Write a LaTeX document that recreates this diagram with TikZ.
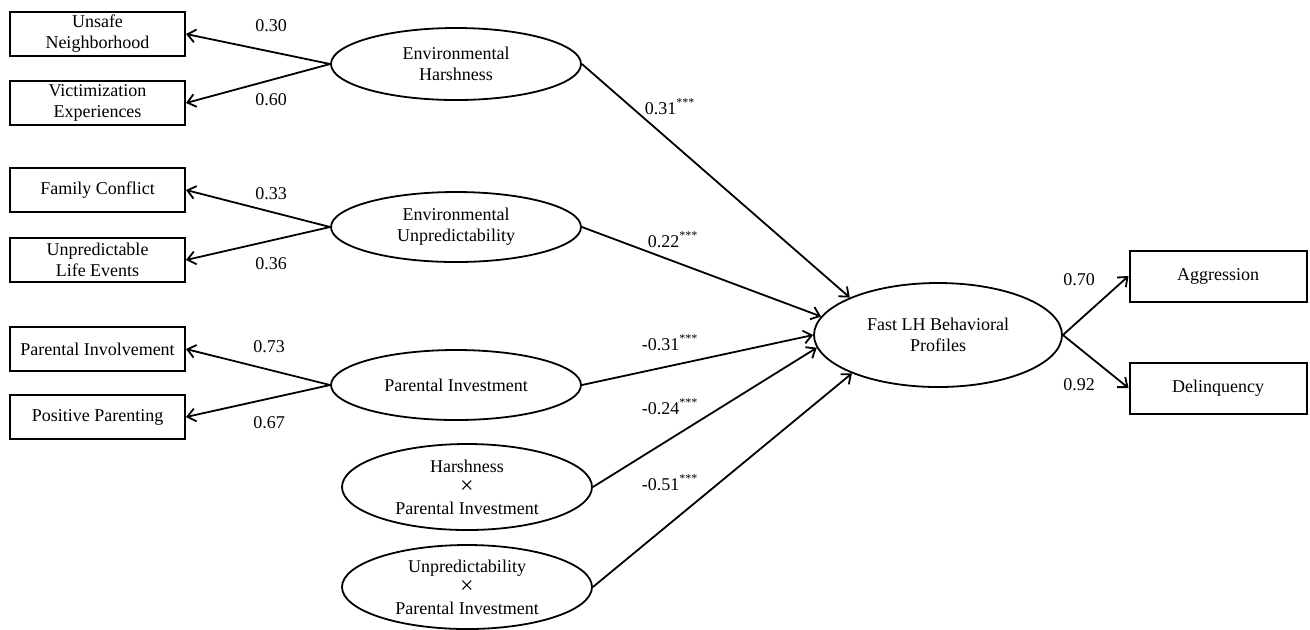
\documentclass[tikz,border=0pt]{standalone}
\usepackage{fontspec}
\setmainfont{Liberation Serif}
\usetikzlibrary{shapes.geometric,arrows.meta,positioning}
\tikzset{
    indicator/.style={
           rectangle,
           draw=black, line width=1pt,
           minimum width=87.5pt,
           minimum height=22pt,
           inner sep=1pt,
           align=center,
           },
    latent/.style={
           ellipse,
           draw=black, line width=0.9pt,
           minimum width=125pt,
           minimum height=35pt,
           inner sep=0pt,
           align=center,
           },
    coef/.style={inner sep=0pt},
}
\newcommand{\crossby}{{\fontsize{12}{10.5}\selectfont ×}}

\begin{document}
\begin{tikzpicture}[->,>={Straight Barb[length=4pt,width=6.5pt]},
  x=0.5pt,y=-0.5pt,line width=0.9pt,font=\fontsize{9}{10.5}\selectfont]
  \useasboundingbox (0,0) rectangle (1310,629);

   % latent factors
   \node[latent,minimum height=36pt] (HARSH) at (456,64) {Environmental\\Harshness};
   \node[latent] (UNPRED) at (456,227) {Environmental\\Unpredictability};
   \node[latent] (INVEST) at (456,385) {Parental Investment};
   \node[latent,minimum height=43pt] (HXI) at (467,487)
   {Harshness\\\crossby\\Parental Investment};
   \node[latent,minimum height=42pt] (UXI) at (467,587)
   {Unpredictability\\\crossby\\Parental Investment};
   \node[latent,minimum width=124pt,minimum height=52pt] (FASTLH) at (938,335)
   {Fast LH Behavioral\\Profiles};

   % observed indicators, left column stacked below each other
   \node[indicator] (UNSAFE) at (97.5,34) {Unsafe\\Neighborhood};
   \node[indicator,below of=UNSAFE,node distance=34.5pt] (VICTIM)
   {Victimization\\Experiences};
   \node[indicator,below of=VICTIM,node distance=43.5pt] (CONFLICT)
   {Family Conflict};
   \node[indicator,below of=CONFLICT,node distance=35pt] (LIFEEV)
   {Unpredictable\\Life Events};
   \node[indicator,below of=LIFEEV,node distance=44.5pt] (INVOLVE)
   {Parental Involvement};
   \node[indicator,below of=INVOLVE,node distance=34pt] (POSPAR)
   {Positive Parenting};

   % outcomes on the right
   \node[indicator,minimum width=88.5pt,minimum height=25.5pt] (AGGR) at (1218,276)
   {Aggression};
   \node[indicator,minimum width=88.5pt,minimum height=25.5pt,
    below of=AGGR,node distance=56pt] (DELINQ) {Delinquency};

   % loadings
   \path
   (HARSH.west) edge (UNSAFE.east)
   (HARSH.west) edge (VICTIM.east)
   (UNPRED.west) edge (CONFLICT.east)
   (UNPRED.west) edge (LIFEEV.east)
   (INVEST.west) edge (INVOLVE.east)
   (INVEST.west) edge (POSPAR.east)
   (FASTLH.east) edge (AGGR.west)
   (FASTLH.east) edge (DELINQ.west);

   % structural paths
   \path
   (HARSH.east) edge (FASTLH.157)
   (UNPRED.east) edge (FASTLH.171)
   (INVEST.east) edge (FASTLH.180)
   (HXI.east) edge (FASTLH.186)
   (UXI.east) edge (FASTLH.204);

   \node[coef] (L1) at (271,26) {0.30};
   \node[coef] (L2) at (271,100) {0.60};
   \node[coef] (L3) at (271,194) {0.33};
   \node[coef] (L4) at (271,264) {0.36};
   \node[coef] (L5) at (269,347) {0.73};
   \node[coef] (L6) at (269,423) {0.67};
   \node[coef] (L7) at (1079,280) {0.70};
   \node[coef] (L8) at (1079,385) {0.92};

   \node[coef] (B1) at (670,107) {0.31\textsuperscript{***}};
   \node[coef] (B2) at (673,240) {0.22\textsuperscript{***}};
   \node[coef] (B3) at (670,343) {-0.31\textsuperscript{***}};
   \node[coef] (B4) at (670,407) {-0.24\textsuperscript{***}};
   \node[coef] (B5) at (670,483) {-0.51\textsuperscript{***}};

\end{tikzpicture}
\end{document}
